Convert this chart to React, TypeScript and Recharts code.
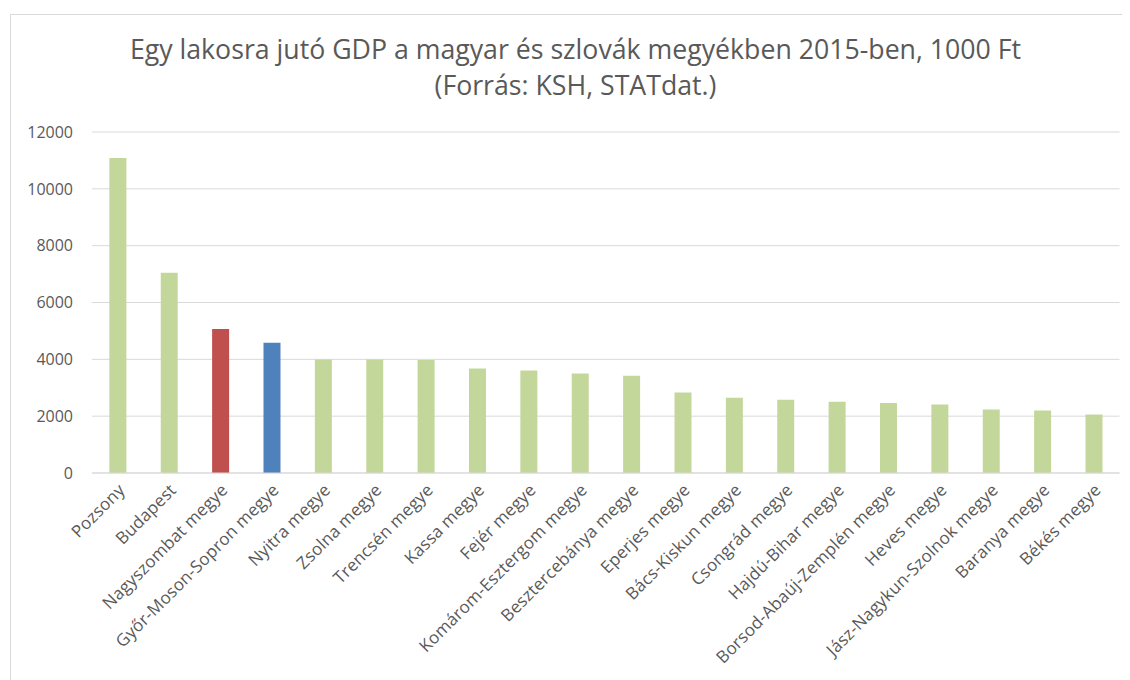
import React from "react";
import { BarChart, Bar, XAxis, YAxis, CartesianGrid, Cell } from "recharts";

const categories = [
  "Pozsony",
  "Budapest",
  "Nagyszombat megye",
  "Győr-Moson-Sopron megye",
  "Nyitra megye",
  "Zsolna megye",
  "Trencsén megye",
  "Kassa megye",
  "Fejér megye",
  "Komárom-Esztergom megye",
  "Besztercebánya megye",
  "Eperjes megye",
  "Bács-Kiskun megye",
  "Csongrád megye",
  "Hajdú-Bihar megye",
  "Borsod-Abaúj-Zemplén megye",
  "Heves megye",
  "Jász-Nagykun-Szolnok megye",
  "Baranya megye",
  "Békés megye",
];

const values = [
  11085, 7050, 5065, 4585, 3995, 3995, 3980, 3680, 3610, 3505, 3425, 2835,
  2645, 2575, 2505, 2460, 2410, 2235, 2200, 2060,
];

const barColors = [
  "#c4d79b", "#c4d79b", "#c0504d", "#4f81bd", "#c4d79b", "#c4d79b", "#c4d79b",
  "#c4d79b", "#c4d79b", "#c4d79b", "#c4d79b", "#c4d79b", "#c4d79b", "#c4d79b",
  "#c4d79b", "#c4d79b", "#c4d79b", "#c4d79b", "#c4d79b", "#c4d79b",
];

const yTicks = [0, 2000, 4000, 6000, 8000, 10000, 12000];

const titleLines = [
  "Egy lakosra jutó GDP a magyar és szlovák megyékben 2015-ben, 1000 Ft",
  "(Forrás: KSH, STATdat.)",
];

const data = categories.map((name, i) => ({ name, value: values[i] }));

const FONT = "'Open Sans', sans-serif";
const TEXT = "#595959";

const XTick = (props: any) => {
  const { x, y, payload } = props;
  const ax = x + 4;
  const ay = y + 6;
  return (
    <text
      x={ax}
      y={ay}
      transform={`rotate(-45, ${ax}, ${ay})`}
      textAnchor="end"
      dy="0.35em"
      fill={TEXT}
      fontSize={17}
      letterSpacing={0.2}
      fontFamily={FONT}
    >
      {payload.value}
    </text>
  );
};

export default function App() {
  return (
    <div style={{ position: "relative", width: 1122, height: 672, overflow: "hidden" }}>
      <div
        style={{
          position: "absolute",
          left: 2,
          top: 6,
          width: 1140,
          height: 720,
          border: "1px solid #d9d9d9",
          background: "#fff",
        }}
      >
        <BarChart
          width={1115}
          height={660}
          data={data}
          margin={{ top: 117, right: 6.5, bottom: 12, left: 0 }}
          barCategoryGap="33.8%"
        >
          <CartesianGrid vertical={false} stroke="#d9d9d9" strokeWidth={1} />
          <XAxis
            dataKey="name"
            interval={0}
            height={190}
            tickLine={false}
            axisLine={{ stroke: "#d9d9d9" }}
            tick={<XTick />}
          />
          <YAxis
            width={81}
            domain={[0, 12000]}
            ticks={yTicks}
            axisLine={false}
            tickLine={false}
            tickMargin={13}
            tick={{ fill: TEXT, fontSize: 16, fontFamily: FONT }}
          />
          <Bar dataKey="value" isAnimationActive={false}>
            {data.map((d, i) => (
              <Cell key={d.name} fill={barColors[i]} />
            ))}
          </Bar>
        </BarChart>
      </div>
      <div
        style={{
          position: "absolute",
          left: 0,
          top: 22.6,
          width: 1135,
          textAlign: "center",
          fontFamily: FONT,
          fontSize: 26.7,
          lineHeight: "36.4px",
          color: TEXT,
        }}
      >
        {titleLines.map((t) => (
          <div key={t}>{t}</div>
        ))}
      </div>
    </div>
  );
}
